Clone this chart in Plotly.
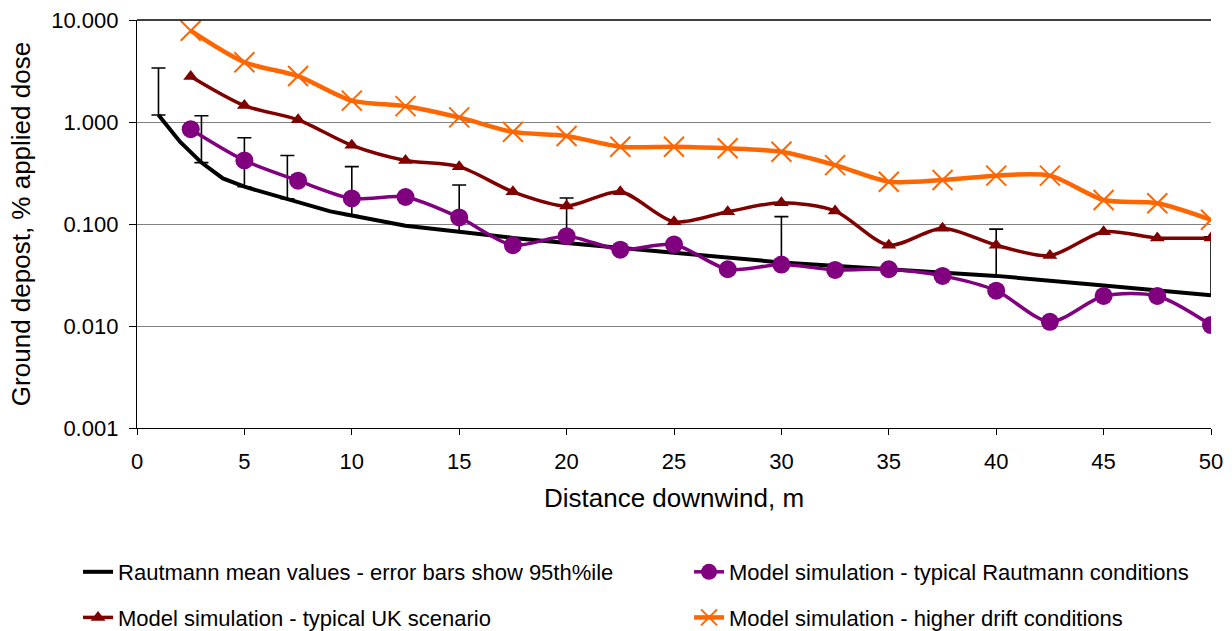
import plotly.graph_objects as go

# Rautmann mean values (black line)
raut_x = [1, 2, 3, 4, 5, 6, 7, 8, 9, 10, 12.5, 15, 17.5, 20, 25, 30, 35, 40, 45, 50]
raut_y = [1.17, 0.64, 0.40, 0.28, 0.232, 0.203, 0.177, 0.153, 0.133, 0.121, 0.096, 0.084,
          0.073, 0.065, 0.052, 0.042, 0.036, 0.031, 0.025, 0.020]

# 95th percentile (upper error bar tops)
err_x = [1, 3, 5, 7, 10, 15, 20, 30, 40, 50]
err_top = [3.38, 1.15, 0.70, 0.47, 0.365, 0.241, 0.18, 0.118, 0.089, 0.075]

# Model simulations
model_x = [2.5, 5, 7.5, 10, 12.5, 15, 17.5, 20, 22.5, 25, 27.5, 30, 32.5, 35, 37.5, 40, 42.5, 45, 47.5, 50]
rautcond_y = [0.85, 0.42, 0.266, 0.178, 0.184, 0.116, 0.062, 0.076, 0.056, 0.063, 0.036, 0.040,
              0.0355, 0.036, 0.031, 0.0222, 0.011, 0.0197, 0.0197, 0.0102]
uk_y = [2.8, 1.45, 1.05, 0.59, 0.42, 0.365, 0.207, 0.15, 0.207, 0.105, 0.132, 0.162, 0.134,
        0.062, 0.091, 0.062, 0.049, 0.084, 0.073, 0.073]
high_y = [7.85, 3.85, 2.82, 1.62, 1.43, 1.11, 0.80, 0.73, 0.573, 0.573, 0.552, 0.51, 0.378,
          0.26, 0.27, 0.298, 0.298, 0.172, 0.16, 0.11]

y_tickvals = [0.001, 0.01, 0.1, 1, 10]
y_ticktext = ["0.001", "0.010", "0.100", "1.000", "10.000"]
x_tickvals = [0, 5, 10, 15, 20, 25, 30, 35, 40, 45, 50]

FONT = "Liberation Sans, Arial, sans-serif"

err_base = [raut_y[raut_x.index(x)] for x in err_x]
err_plus = [t - b for t, b in zip(err_top, err_base)]

fig = go.Figure()

# error bars (upper only)
fig.add_trace(go.Scatter(
    x=err_x, y=err_base, mode="markers",
    marker=dict(size=2, color="rgba(0,0,0,0)"),
    error_y=dict(type="data", symmetric=False, array=err_plus,
                 arrayminus=[0] * len(err_x), color="black", thickness=1.6, width=7),
    showlegend=False, hoverinfo="skip"))

fig.add_trace(go.Scatter(
    x=raut_x, y=raut_y, mode="lines",
    line=dict(color="black", width=4),
    name="Rautmann mean values - error bars show 95th%ile",
    legend="legend", legendgroup="a"))

fig.add_trace(go.Scatter(
    x=model_x, y=uk_y, mode="lines+markers",
    line=dict(color="#800000", width=3.5, shape="spline", smoothing=0.8),
    marker=dict(symbol="triangle-up", size=13, color="#800000"),
    name="Model simulation - typical UK scenario",
    legend="legend", legendgroup="b"))

fig.add_trace(go.Scatter(
    x=model_x, y=rautcond_y, mode="lines+markers",
    line=dict(color="#800080", width=3.5, shape="spline", smoothing=0.8),
    marker=dict(symbol="circle", size=18, color="#800080"),
    name="Model simulation - typical Rautmann conditions",
    legend="legend2", legendgroup="c"))

fig.add_trace(go.Scatter(
    x=model_x, y=high_y, mode="lines+markers",
    line=dict(color="#FF6600", width=4.5, shape="spline", smoothing=0.8),
    marker=dict(symbol="x-thin-open", size=20, color="#FF6600",
                line=dict(color="#FF6600", width=2)),
    name="Model simulation - higher drift conditions",
    legend="legend2", legendgroup="d"))

fig.update_layout(
    width=1232, height=631,
    margin=dict(l=137, r=21, t=20, b=203, autoexpand=False),
    paper_bgcolor="white", plot_bgcolor="white",
    font=dict(family=FONT, size=22, color="black"),
    xaxis=dict(range=[0, 50], tickvals=x_tickvals, showgrid=False, zeroline=False,
               automargin=False,
               showline=True, linecolor="black", linewidth=1.3,
               ticks="outside", ticklen=6, tickcolor="black", tickwidth=1.3,
               ticklabelstandoff=7,
               title=dict(text="Distance downwind, m", standoff=16)),
    yaxis=dict(type="log", range=[-3, 1], tickvals=y_tickvals, ticktext=y_ticktext,
               automargin=False,
               showgrid=True, gridcolor="#808080", gridwidth=1.2, zeroline=False,
               showline=True, linecolor="black", linewidth=1.3,
               ticks="outside", ticklen=7, tickcolor="black", tickwidth=1.3,
               ticklabelstandoff=6,
               title=dict(text="Ground depost, % applied dose", standoff=13)),
    legend=dict(x=-0.0549, y=-0.3015, xanchor="left", yanchor="top",
                orientation="v", tracegroupgap=14, bgcolor="rgba(0,0,0,0)",
                font=dict(size=22)),
    legend2=dict(x=0.514, y=-0.3015, xanchor="left", yanchor="top",
                 orientation="v", tracegroupgap=14, bgcolor="rgba(0,0,0,0)",
                 font=dict(size=22)),
    shapes=[dict(type="line", xref="paper", yref="paper", x0=0, x1=1, y0=1, y1=1,
                 line=dict(color="black", width=1.3))],
)

fig.write_html("out.html", config={"displayModeBar": False},
               post_script="document.body.style.margin='0';document.body.style.overflow='hidden';")
